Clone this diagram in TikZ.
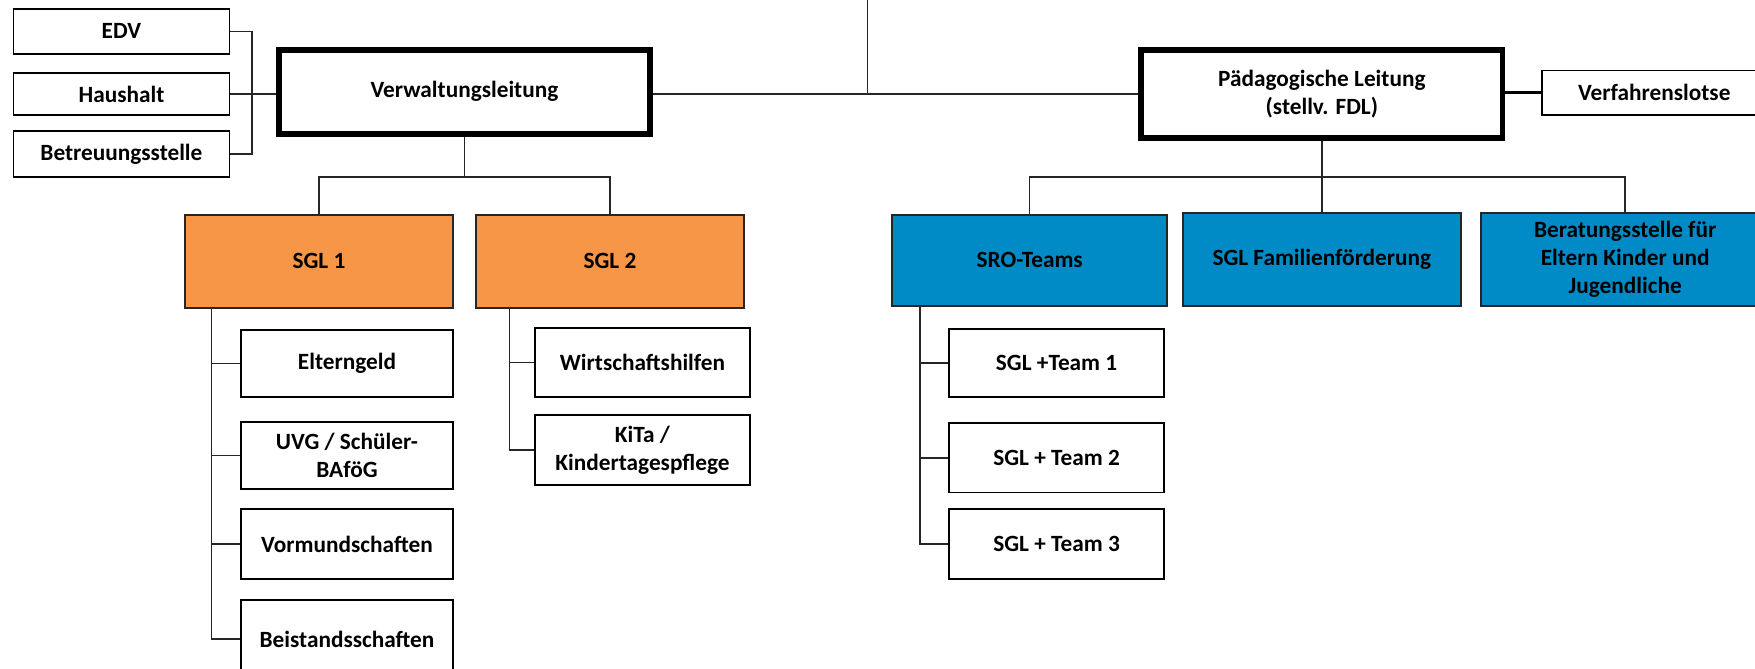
\documentclass[tikz,border=0pt]{standalone}
\usepackage{fontspec}
\setmainfont{Carlito}
\definecolor{orgfill}{HTML}{F79646}
\definecolor{bluefill}{HTML}{008BC6}
\begin{document}
\begin{tikzpicture}[x=1pt,y=-1pt,
  every node/.style={font=\fontsize{20.8}{25}\selectfont\bfseries, align=center, inner sep=0pt},
  box/.style={draw=black, line width=1.6pt, fill=white},
  lead/.style={draw=black, line width=5pt, fill=white},
  obox/.style={draw=black!85, line width=1.8pt, fill=orgfill},
  bbox/.style={draw=black!85, line width=1.8pt, fill=bluefill},
  conn/.style={draw=black!85, line width=1.3pt}]
\clip (0,0) rectangle (1568,597);
\fill[white] (0,0) rectangle (1568,597);
% top row
\node[box, minimum width=193pt, minimum height=40pt] (edv) at (108.5,28) {EDV};
\node[box, minimum width=193pt, minimum height=38pt] (haus) at (108.5,84) {Haushalt};
\node[box, minimum width=193pt, minimum height=41pt] (betr) at (108.5,137.5) {Betreuungsstelle};
\node[lead, minimum width=331pt, minimum height=75pt] (vl) at (415,82) {Verwaltungsleitung};
\node[lead, minimum width=323pt, minimum height=79pt] (pl) at (1181,84) {Pädagogische Leitung\\(stellv. FDL)};
\node[box, minimum width=200pt, minimum height=40pt] (vlo) at (1478,83) {Verfahrenslotse};
% second row
\node[obox, minimum width=240pt, minimum height=83pt] (s1) at (285,233.5) {SGL 1};
\node[obox, minimum width=240pt, minimum height=83pt] (s2) at (545,233.5) {SGL 2};
\node[bbox, minimum width=246pt, minimum height=81pt] (sro) at (920,232.5) {SRO-Teams};
\node[bbox, minimum width=248pt, minimum height=83pt] (ff) at (1181,231.5) {SGL Familienförderung};
\node[bbox, minimum width=258pt, minimum height=83pt] (ber) at (1452,231.5) {Beratungsstelle für\\Eltern Kinder und\\Jugendliche};
% SGL1 children
\node[box, minimum width=190pt, minimum height=60pt] (eg) at (310,325) {Elterngeld};
\node[box, minimum width=190pt, minimum height=60pt] (uvg) at (310,407) {UVG / Schüler-\\BAföG};
\node[box, minimum width=190pt, minimum height=62pt] (vm) at (310,486) {Vormundschaften};
\node[box, minimum width=190pt, minimum height=70pt] (bs) at (310,571) {Beistandsschaften};
% SGL2 children
\node[box, minimum width=192pt, minimum height=62pt] (wh) at (574,324) {Wirtschaftshilfen};
\node[box, minimum width=192pt, minimum height=62pt] (kita) at (574,402) {KiTa /\\Kindertagespflege};
% SRO children
\node[box, minimum width=192pt, minimum height=61pt] (t1) at (944,324.5) {SGL +Team 1};
\node[box, minimum width=192pt, minimum height=62pt] (t2) at (944,409) {SGL + Team 2};
\node[box, minimum width=192pt, minimum height=62pt] (t3) at (944,486) {SGL + Team 3};
% coordinates
\coordinate (bx) at (225,0);
\coordinate (topc) at (775,0);
\coordinate (busL) at (0,158);
\coordinate (x1) at (189,0);
\coordinate (x2) at (455,0);
\coordinate (x3) at (822,0);
% connectors
\draw[conn] (edv.east) -- (edv.east -| bx) -- (betr.east -| bx) -- (betr.east);
\draw[conn] (haus.east) -- (haus.east -| vl.west);
\draw[conn] (topc) -- (topc |- pl.west);
\draw[conn] (pl.west) -- (pl.west -| vl.east);
\draw[black, line width=2.6pt] (vlo.west) -- (vlo.west -| pl.east);
\draw[conn] (vl.south) -- (vl.south |- busL);
\draw[conn] (s1.north) -- (s1.north |- busL) -- (s2.north |- busL) -- (s2.north);
\draw[conn] (pl.south) -- (ff.north);
\draw[conn] (sro.north) -- (sro.north |- busL) -- (ber.north |- busL) -- (ber.north);
\draw[conn] (x1 |- s1.south) -- (x1 |- bs.west) -- (bs.west);
\draw[conn] (x1 |- eg.west) -- (eg.west);
\draw[conn] (x1 |- uvg.west) -- (uvg.west);
\draw[conn] (x1 |- vm.west) -- (vm.west);
\draw[conn] (x2 |- s2.south) -- (x2 |- kita.west) -- (kita.west);
\draw[conn] (x2 |- wh.west) -- (wh.west);
\draw[conn] (x3 |- sro.south) -- (x3 |- t3.west) -- (t3.west);
\draw[conn] (x3 |- t1.west) -- (t1.west);
\draw[conn] (x3 |- t2.west) -- (t2.west);
\end{tikzpicture}
\end{document}
